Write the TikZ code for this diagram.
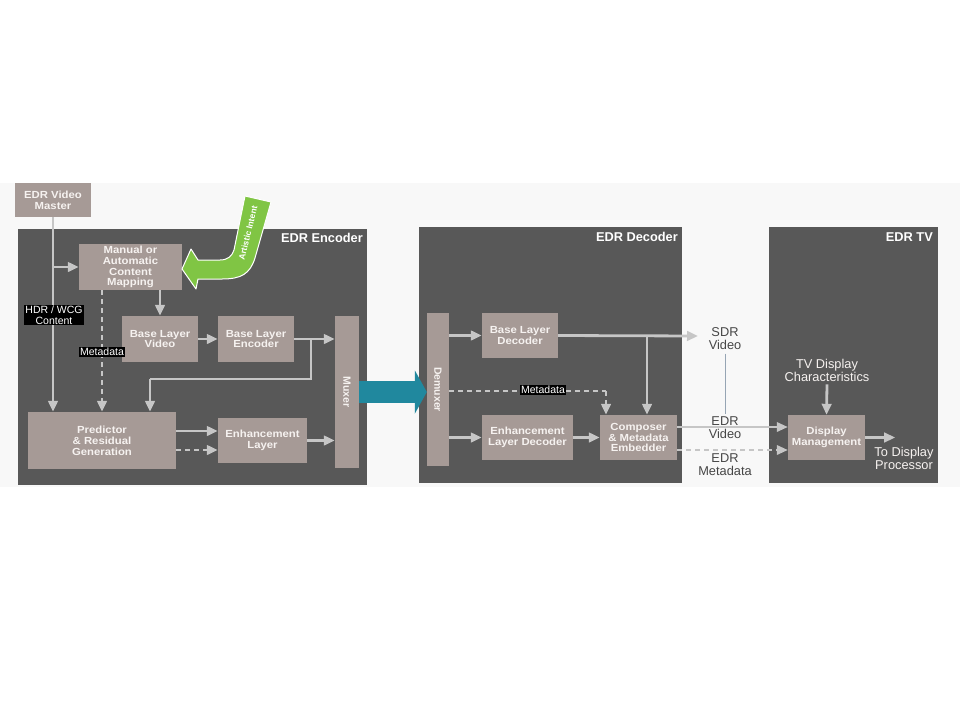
\documentclass[tikz,border=0pt]{standalone}
\usepackage{fontspec}
\setmainfont{Liberation Sans}
\newfontfamily\boxfont{Liberation Sans}[FakeStretch=1.1]
\usetikzlibrary{arrows.meta,calc}
\definecolor{regionc}{RGB}{88,88,88}
\definecolor{boxc}{RGB}{166,154,150}
\definecolor{arrowc}{RGB}{198,198,198}
\definecolor{bandc}{RGB}{248,248,248}
\definecolor{greenc}{RGB}{128,197,68}
\definecolor{tealc}{RGB}{32,136,158}
\definecolor{boxtext}{RGB}{246,242,240}
\definecolor{outtext}{RGB}{70,70,70}
\definecolor{thinc}{RGB}{150,165,180}
\tikzset{
  region/.style={fill=regionc, draw=none, inner sep=0pt},
  regiontitle/.style={anchor=east, text=white, font=\bfseries\fontsize{12.8}{14}\selectfont, inner sep=0pt},
  box/.style={fill=boxc, draw=none, inner sep=0pt, align=center, text=boxtext,
    font=\boxfont\bfseries\fontsize{10.3}{10.9}\selectfont},
  conn/.style={draw=arrowc, line width=2.8pt, -{Triangle[length=11pt,width=9.5pt]}},
  dconn/.style={conn, dash pattern=on 5pt off 4pt},
  plainline/.style={draw=arrowc, line width=2.8pt},
  dplainline/.style={plainline, dash pattern=on 5pt off 4pt},
  tag/.style={fill=black, text=white, inner sep=1.2pt, align=center, font=\fontsize{10.5}{10.8}\selectfont},
  outlabel/.style={text=outtext, align=center, font=\fontsize{12.8}{13}\selectfont, inner sep=0pt},
  inlabel/.style={text=boxtext, align=center, font=\fontsize{12.8}{13}\selectfont, inner sep=0pt},
  vtext/.style={rotate=-90, text=boxtext, font=\bfseries\fontsize{10.5}{11}\selectfont, inner sep=0pt},
}
\begin{document}
\begin{tikzpicture}[x=1pt,y=-1pt]
\useasboundingbox (0,0) rectangle (960,720);
\fill[white] (0,0) rectangle (960,720);
\fill[bandc] (0,183) rectangle (960,487);

% regions
\node[region, minimum width=349pt, minimum height=256pt] (enc) at (192.5,357) {};
\node[regiontitle] (enctitle) at (363,238) {EDR Encoder};
\node[region, minimum width=263pt, minimum height=256pt] (dec) at (550.5,355) {};
\node[regiontitle] (dectitle) at (678,237) {EDR Decoder};
\node[region, minimum width=169pt, minimum height=256pt] (tv) at (853.5,355) {};
\node[regiontitle] (tvtitle) at (933,237) {EDR TV};

% encoder boxes
\node[box, minimum width=76pt, minimum height=34pt] (master) at (53,200) {EDR Video\\Master};
\node[box, minimum width=103pt, minimum height=46pt] (manual) at (130.5,267) {Manual or\\Automatic\\Content\\Mapping};
\node[box, minimum width=76pt, minimum height=46pt] (blv) at (160,339) {Base Layer\\Video};
\node[box, minimum width=76pt, minimum height=46pt] (ble) at (256,339) {Base Layer\\Encoder};
\node[box, minimum width=24pt, minimum height=152pt] (mux) at (347,392) {};
\node[vtext] (muxtext) at (mux.center) {Muxer};
\node[box, minimum width=148pt, minimum height=57pt] (pred) at (102,440.5) {Predictor\\\& Residual\\Generation};
\node[box, minimum width=89pt, minimum height=45pt] (el) at (262.5,440.5) {Enhancement\\Layer};

% decoder boxes
\node[box, minimum width=22pt, minimum height=153pt] (demux) at (438,389.5) {};
\node[vtext] (demuxtext) at (demux.center) {Demuxer};
\node[box, minimum width=76pt, minimum height=45pt] (bld) at (520,335.5) {Base Layer\\Decoder};
\node[box, minimum width=91pt, minimum height=45pt] (eld) at (527.5,437.5) {Enhancement\\Layer Decoder};
\node[box, minimum width=77pt, minimum height=45pt] (comp) at (638.5,437.5) {Composer\\\& Metadata\\Embedder};

% TV
\node[box, minimum width=77pt, minimum height=45pt] (dm) at (826.5,437.5) {Display\\Management};
\node[inlabel] (tvchar) at (827,370) {TV Display\\Characteristics};
\node[inlabel] (todisp) at (904,458) {To Display\\Processor};

% outside labels
\node[outlabel] (sdr) at (725,338.5) {SDR\\Video};
\node[outlabel] (edrv) at (725,428) {EDR\\Video};
\node[outlabel] (edrm) at (725,465) {EDR\\Metadata};

% coordinates
\coordinate (hbranch) at (master.south |- manual.west);
\coordinate (mdtop) at ([xshift=-28.5pt]manual.south);
\coordinate (blebr) at (311,339);
\coordinate (bleb2) at (311,379);
\coordinate (bleb3) at (150,379);
\coordinate (bldbr) at (647,336);
\coordinate (sdrend) at (698,336);
\coordinate (metadec) at (606,391);

% green arrow
\fill[greenc, draw=white, line width=1pt, line join=round]
  (245,196) -- (271,202) -- (255,258) .. controls (250,274) and (241,279) .. (222,279)
  -- (198,279) -- (196,289) -- (182,269) -- (191,249) -- (198,260) -- (220,260)
  .. controls (228,260) and (232,256) .. (234,250) -- cycle;
\node[rotate=76, text=white, font=\bfseries\fontsize{8.5}{9}\selectfont, inner sep=0pt] (artistic) at (248,233) {Artistic Intent};

% encoder connectors
\draw[plainline] (master.south) -- (hbranch);
\draw[conn] (hbranch) -- (master.south |- pred.north);
\draw[conn] (hbranch) -- (manual.west);
\draw[conn] (manual.south -| blv.north) -- (blv.north);
\draw[dconn] (mdtop) -- (mdtop |- pred.north);
\draw[conn] (blv.east) -- (ble.west);
\draw[conn] (ble.east) -- (ble.east -| mux.west);
\draw[plainline, line join=miter] (blebr) -- (bleb2) -- (bleb3);
\draw[conn] (bleb3) -- (bleb3 |- pred.north);
\draw[conn] ([yshift=9.5pt]pred.east) -- ([yshift=9.5pt]pred.east -| el.west);
\draw[dconn] ([yshift=-9.5pt]pred.east) -- ([yshift=-9.5pt]pred.east -| el.west);
\draw[conn] (el.east) -- (el.east -| mux.west);
\node[tag] (hdrtag) at (54,315) {HDR / WCG\\Content};
\node[tag] (metatag1) at (102,352) {Metadata};

% teal arrow
\draw[draw=tealc, line width=22pt, -{Triangle[width=43pt,length=12pt]}] (mux.east) -- (mux.east -| demux.west);

% decoder connectors
\draw[conn] (demux.east |- bld.west) -- (bld.west);
\draw[conn] (demux.east |- eld.west) -- (eld.west);
\draw[conn] (bld.east) -- (sdrend);
\draw[conn] (bldbr) -- (bldbr |- comp.north);
\draw[dplainline] (demux.east |- metadec) -- (metadec);
\draw[dconn] (metadec) -- (metadec |- comp.north);
\node[tag] (metatag2) at (543,390) {Metadata};
\draw[conn] (eld.east) -- (comp.west);

% to TV
\draw[draw=thinc, line width=0.9pt] ([yshift=-4pt]sdr.south) -- ([yshift=3pt]edrv.north);
\draw[conn, line width=2pt] ([yshift=10.5pt]comp.east) -- ([yshift=10.5pt]comp.east -| dm.west);
\draw[dconn, line width=2pt] ([yshift=-12.5pt]comp.east) -- ([yshift=-12.5pt]comp.east -| dm.west);
\coordinate (tvcs) at ([yshift=-3pt]tvchar.south);
\draw[conn] (tvcs) -- (dm.north);
\draw[conn] (dm.east) -- ++(30pt,0) coordinate (dmout);
\end{tikzpicture}
\end{document}
